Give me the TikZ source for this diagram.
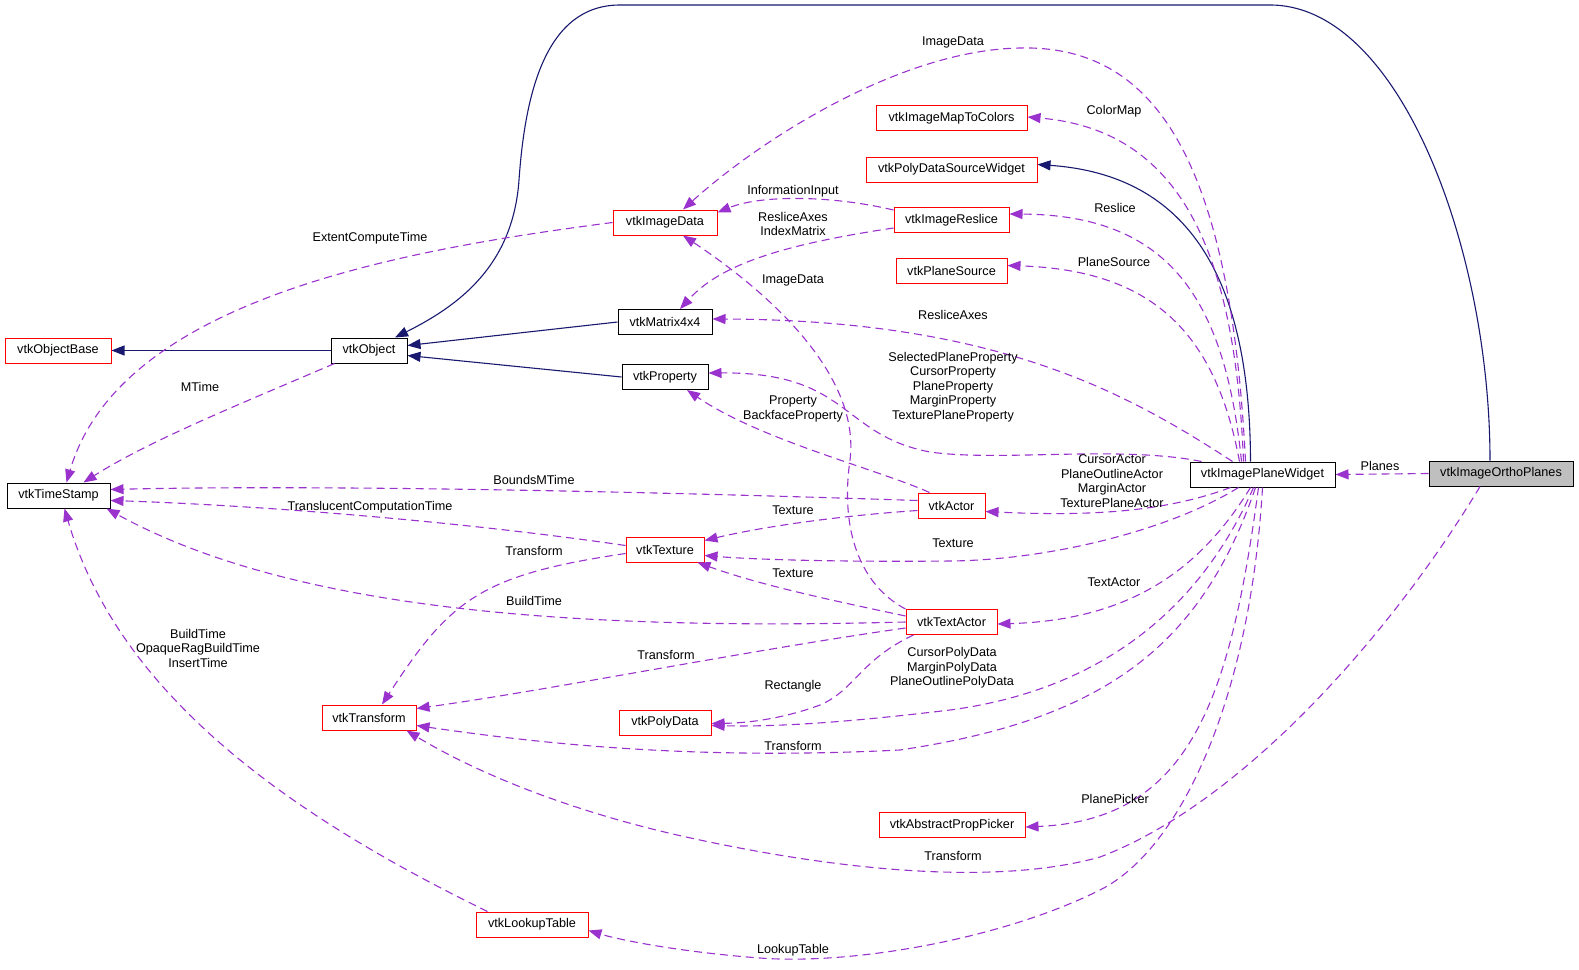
\documentclass[tikz,border=0pt]{standalone}
\usepackage{fontspec}
\setmainfont{Liberation Sans}
\usetikzlibrary{arrows.meta,calc}
\definecolor{edgepurple}{HTML}{9A32CD}
\definecolor{edgeblue}{HTML}{191970}
\definecolor{boxgray}{HTML}{BFBFBF}
\begin{document}
\begin{tikzpicture}[x=1pt,y=-1pt,
  cls/.style={draw=black, line width=1pt, fill=white, inner sep=0pt, minimum height=25pt, font=\fontsize{12.65}{14.5}\selectfont},
  rcls/.style={cls, draw=red},
  gcls/.style={cls, fill=boxgray},
  lbl/.style={inner sep=0pt, align=center, font=\fontsize{12.65}{14.5}\selectfont},
  inh/.style={draw=edgeblue, line width=1.1pt, -{Triangle[length=13pt,width=10pt]}},
  mem/.style={draw=edgepurple, line width=1.1pt, dash pattern=on 8pt off 5pt, -{Triangle[length=13pt,width=10pt]}}
]
\useasboundingbox (0,0) rectangle (1579,969);

% classes
\node[gcls, minimum width=144] (ortho) at (1501,473.5) {vtkImageOrthoPlanes};
\node[cls, minimum width=145] (W) at (1262.5,474.5) {vtkImagePlaneWidget};
\node[cls, minimum width=76] (obj) at (369,350.5) {vtkObject};
\node[rcls, minimum width=106] (objbase) at (58,350.5) {vtkObjectBase};
\node[cls, minimum width=103] (ts) at (58.5,495.5) {vtkTimeStamp};
\node[rcls, minimum width=104] (imgdata) at (665,222.5) {vtkImageData};
\node[rcls, minimum width=151] (map) at (951.5,118) {vtkImageMapToColors};
\node[rcls, minimum width=171] (pdsw) at (951.5,169.5) {vtkPolyDataSourceWidget};
\node[rcls, minimum width=115] (reslice) at (951.5,220) {vtkImageReslice};
\node[rcls, minimum width=111] (psrc) at (951.5,270.5) {vtkPlaneSource};
\node[cls, minimum width=94] (mat) at (665,322) {vtkMatrix4x4};
\node[cls, minimum width=86] (prop) at (665,377) {vtkProperty};
\node[rcls, minimum width=67] (actor) at (951.5,505.5) {vtkActor};
\node[rcls, minimum width=78] (tex) at (665,549.5) {vtkTexture};
\node[rcls, minimum width=91] (textactor) at (951.5,622) {vtkTextActor};
\node[rcls, minimum width=92] (polydata) at (665,722.5) {vtkPolyData};
\node[rcls, minimum width=94] (transform) at (369,717.5) {vtkTransform};
\node[rcls, minimum width=146] (picker) at (952,825) {vtkAbstractPropPicker};
\node[rcls, minimum width=112] (lut) at (532,924.5) {vtkLookupTable};

% inheritance
\draw[inh] (obj.west) -- (objbase.east);
\draw[inh] (mat.west) -- ($(obj.east)+(0,-5)$);
\draw[inh] (prop.west) -- ($(obj.east)+(0,5)$);
\draw[inh] ($(ortho.north)+(-11,0)$) .. controls (1490,250) and (1400,5) .. (1270,5) -- (620,5)
  .. controls (545,5) and (525,95) .. (519,180) .. controls (513,265) and (460,305) .. ($(obj.north)+(26,0)$);
\draw[inh] ($(W.north)+(-12,0)$) .. controls (1250,280) and (1190,175) .. ($(pdsw.east)+(0,-5)$);

% members of vtkImagePlaneWidget
\draw[mem] ($(W.north)+(-17,0)$) .. controls (1230,150) and (1150,45) .. (1020,48) .. controls (900,50) and (760,140) .. ($(imgdata.north)+(18,0)$);
\draw[mem] ($(W.north)+(-19,0)$) .. controls (1235,250) and (1180,130) .. ($(map.east)+(0,-1)$);
\draw[mem] ($(W.north)+(-21,0)$) .. controls (1225,300) and (1170,215) .. ($(reslice.east)+(0,-6)$);
\draw[mem] ($(W.north)+(-23,0)$) .. controls (1215,330) and (1150,270) .. ($(psrc.east)+(0,-5)$);
\draw[mem] ($(W.north)+(-30,0)$) .. controls (1130,395) and (1000,320) .. ($(mat.east)+(0,-3)$);
\draw[mem] ($(W.north west)+(12,0)$) .. controls (1120,445) and (1000,462) .. (930,452) .. controls (840,435) and (850,372) .. ($(prop.east)+(0,-4)$);
\draw[mem] ($(W.south)+(-32,0)$) .. controls (1170,510) and (1100,517) .. ($(actor.east)+(0,6)$);
\draw[mem] ($(W.south)+(-24,0)$) .. controls (1170,530) and (1050,560) .. (950,561) .. controls (850,562) and (760,560) .. ($(tex.east)+(0,6)$);
\draw[mem] ($(W.south)+(-12,0)$) .. controls (1200,570) and (1130,620) .. ($(textactor.east)+(0,2)$);
\draw[mem] ($(W.south)+(-9,0)$) .. controls (1200,610) and (1100,690) .. (950,710) .. controls (850,722) and (780,727) .. ($(polydata.east)+(0,3)$);
\draw[mem] ($(W.south)+(-7,0)$) .. controls (1200,650) and (1100,720) .. (900,750) .. controls (700,760) and (550,745) .. ($(transform.east)+(0,8)$);
\draw[mem] ($(W.south)+(-4,0)$) .. controls (1230,700) and (1190,820) .. ($(picker.east)+(0,2)$);
\draw[mem] (W.south) .. controls (1250,700) and (1180,850) .. (1100,890) .. controls (1000,940) and (850,965) .. (760,958) .. controls (680,952) and (620,940) .. ($(lut.east)+(0,6)$);

% members of vtkImageOrthoPlanes
\draw[mem] (ortho.west) -- (W.east);
\draw[mem] ($(ortho.south)+(-21,0)$) .. controls (1400,620) and (1250,800) .. (1100,857) .. controls (1000,885) and (850,872) .. (700,840) .. controls (580,815) and (480,775) .. ($(transform.south east)+(-10,0)$);

% members of vtkTextActor
\draw[mem] (textactor.north west) .. controls (860,585) and (840,530) .. (850,460) .. controls (860,380) and (780,300) .. ($(imgdata.south)+(18,0)$);
\draw[mem] ($(textactor.west)+(0,-6)$) .. controls (830,600) and (760,585) .. ($(tex.south east)+(-7,0)$);
\draw[mem] (textactor.west) .. controls (600,630) and (300,615) .. ($(ts.south east)+(-4,0)$);
\draw[mem] ($(textactor.west)+(0,6)$) .. controls (750,650) and (550,690) .. ($(transform.east)+(0,-9)$);
\draw[mem] ($(textactor.south west)+(8,0)$) .. controls (860,660) and (855,690) .. (820,705) .. controls (785,718) and (750,723) .. ($(polydata.east)+(0,1)$);

% members of vtkActor
\draw[mem] ($(actor.north west)+(12,0)$) .. controls (880,470) and (760,440) .. ($(prop.south)+(22,0)$);
\draw[mem] ($(actor.west)+(0,-5)$) .. controls (600,490) and (300,485) .. ($(ts.east)+(0,-6)$);
\draw[mem] ($(actor.west)+(0,5)$) .. controls (850,515) and (770,525) .. ($(tex.east)+(0,-9)$);

% members of vtkTexture
\draw[mem] ($(tex.west)+(0,-4)$) .. controls (450,520) and (250,505) .. ($(ts.east)+(0,5)$);
\draw[mem] ($(tex.west)+(0,4)$) .. controls (480,575) and (450,600) .. ($(transform.north)+(13,0)$);

% other members
\draw[mem] (imgdata.west) .. controls (400,250) and (120,300) .. ($(ts.north)+(8,0)$);
\draw[mem] ($(obj.south west)+(4,0)$) .. controls (250,400) and (150,440) .. ($(ts.north)+(25,0)$);
\draw[mem] ($(reslice.north west)+(0,3)$) .. controls (830,195) and (760,195) .. ($(imgdata.north east)+(0,3)$);
\draw[mem] ($(reslice.west)+(0,8)$) .. controls (780,245) and (720,265) .. ($(mat.north)+(15,0)$);
\draw[mem] ($(lut.north west)+(12,0)$) .. controls (300,820) and (120,700) .. ($(ts.south)+(6,0)$);

% labels
\node[lbl] (l1) at (953,42) {ImageData};
\node[lbl] (l2) at (1114,111) {ColorMap};
\node[lbl] (l3) at (793,191) {InformationInput};
\node[lbl] (l4) at (793,224) {ResliceAxes\\IndexMatrix};
\node[lbl] (l5) at (370,238) {ExtentComputeTime};
\node[lbl] (l6) at (1115,208) {Reslice};
\node[lbl] (l7) at (1114,262) {PlaneSource};
\node[lbl] (l8) at (793,280) {ImageData};
\node[lbl] (l9) at (953,315) {ResliceAxes};
\node[lbl] (l10) at (200,387) {MTime};
\node[lbl] (l11) at (953,387) {SelectedPlaneProperty\\CursorProperty\\PlaneProperty\\MarginProperty\\TexturePlaneProperty};
\node[lbl] (l12) at (793,409) {Property\\BackfaceProperty};
\node[lbl] (l13) at (534,480) {BoundsMTime};
\node[lbl] (l14) at (1112,481) {CursorActor\\PlaneOutlineActor\\MarginActor\\TexturePlaneActor};
\node[lbl] (l15) at (1380,466) {Planes};
\node[lbl] (l16) at (370,507) {TranslucentComputationTime};
\node[lbl] (l17) at (793,510) {Texture};
\node[lbl] (l18) at (953,543) {Texture};
\node[lbl] (l19) at (534,551) {Transform};
\node[lbl] (l20) at (793,573) {Texture};
\node[lbl] (l21) at (1114,582) {TextActor};
\node[lbl] (l22) at (534,601) {BuildTime};
\node[lbl] (l23) at (198,648) {BuildTime\\OpaqueRagBuildTime\\InsertTime};
\node[lbl] (l24) at (666,655) {Transform};
\node[lbl] (l25) at (952,668) {CursorPolyData\\MarginPolyData\\PlaneOutlinePolyData};
\node[lbl] (l26) at (793,686) {Rectangle};
\node[lbl] (l27) at (793,746) {Transform};
\node[lbl] (l28) at (1115,799) {PlanePicker};
\node[lbl] (l29) at (953,856) {Transform};
\node[lbl] (l30) at (793,950) {LookupTable};
\end{tikzpicture}
\end{document}
